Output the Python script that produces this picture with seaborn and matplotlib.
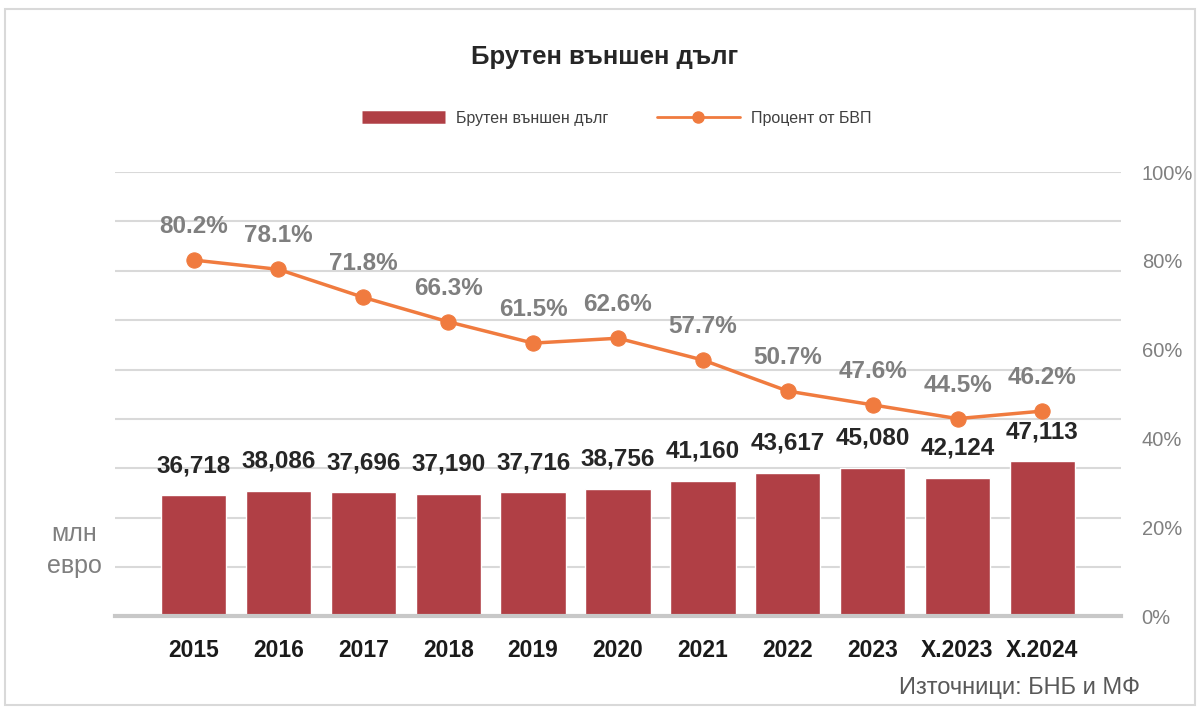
import numpy as np
import pandas as pd
import matplotlib
matplotlib.use('Agg')
import matplotlib.pyplot as plt
from matplotlib.lines import Line2D
from matplotlib.patches import Rectangle
import seaborn as sns

# Данни
categories = ['2015', '2016', '2017', '2018', '2019', '2020', '2021', '2022', '2023', 'X.2023', 'X.2024']
debt = [36718, 38086, 37696, 37190, 37716, 38756, 41160, 43617, 45080, 42124, 47113]
pct_gdp = [80.2, 78.1, 71.8, 66.3, 61.5, 62.6, 57.7, 50.7, 47.6, 44.5, 46.2]

bar_color = '#B03F45'
line_color = '#F07B3F'

sns.set_style('white')
plt.rcParams['font.family'] = ['Liberation Sans', 'DejaVu Sans']

df = pd.DataFrame({'period': categories, 'debt': debt, 'pct': pct_gdp})

fig = plt.figure(figsize=(12, 7.2), dpi=100)
ax = fig.add_axes([0.096, 0.144, 0.838, 0.617])

sns.barplot(data=df, x='period', y='debt', color=bar_color, width=0.77,
            saturation=1, ax=ax, zorder=2)
ax.set_ylim(0, 135000)
ax.set_yticks(np.arange(0, 135001, 15000))
ax.set_yticklabels([])
ax.tick_params(axis='y', length=0)
ax.grid(axis='y', color='#D9D9D9', linewidth=1.5, zorder=0)
ax.set_axisbelow(True)
for s in ['top', 'right', 'left']:
    ax.spines[s].set_visible(False)
ax.spines['bottom'].set_color('#C8C8C8')
ax.spines['bottom'].set_linewidth(3)
ax.spines['bottom'].set_zorder(3)
ax.set_xlabel('')
ax.set_ylabel('')
ax.tick_params(axis='x', length=0, pad=16)
for lbl in ax.get_xticklabels():
    lbl.set_fontsize(16.5)
    lbl.set_fontweight('bold')
    lbl.set_color('#1A1A1A')

for i, v in enumerate(debt):
    ax.annotate(f'{v:,}', (i, v), xytext=(0, 18), textcoords='offset pixels',
                ha='center', va='bottom', fontsize=17.5, fontweight='bold', color='#262626')

ax2 = ax.twinx()
sns.lineplot(x=np.arange(len(categories)), y=np.array(pct_gdp) / 100, ax=ax2,
             color=line_color, linewidth=2.5, marker='o', markersize=11,
             markeredgecolor=line_color, zorder=4)
ax2.set_ylim(0, 1.0)
ax2.set_yticks(np.arange(0, 1.01, 0.2))
ax2.set_yticklabels([f'{int(round(t * 100))}%' for t in np.arange(0, 1.01, 0.2)])
ax2.tick_params(axis='y', length=0, pad=15, labelsize=14.5, labelcolor='#808080')
for s in ax2.spines.values():
    s.set_visible(False)
ax2.set_xlim(ax.get_xlim())

for i, p in enumerate(pct_gdp):
    ax2.annotate(f'{p:.1f}%', (i, p / 100), xytext=(0, 22), textcoords='offset pixels',
                 ha='center', va='bottom', fontsize=17.5, fontweight='bold', color='#7F7F7F')

fig.text(0.062, 0.236, 'млн\nевро', ha='center', va='center', fontsize=18,
         color='#7F7F7F', linespacing=1.45)

fig.text(0.504, 0.921, 'Брутен външен дълг', ha='center', va='center',
         fontsize=18.5, fontweight='bold', color='#262626')

handles = [Line2D([0], [0], color=bar_color, linewidth=9, solid_capstyle='butt'),
           Line2D([0], [0], color=line_color, linewidth=2, marker='o', markersize=8)]
fig.legend(handles, ['Брутен външен дълг', 'Процент от БВП'], loc='center',
           bbox_to_anchor=(0.514, 0.836), ncol=2, frameon=False, fontsize=11.5,
           handlelength=5.2, columnspacing=3, handletextpad=0.7,
           labelcolor='#404040')

fig.text(0.95, 0.045, 'Източници: БНБ и МФ', ha='right', va='center', fontsize=17,
         color='#595959')

fig.patches.append(Rectangle((0.004, 0.021), 0.992, 0.967, transform=fig.transFigure,
                             fill=False, edgecolor='#D9D9D9', linewidth=1.5))

fig.savefig('out.png', dpi=100)
